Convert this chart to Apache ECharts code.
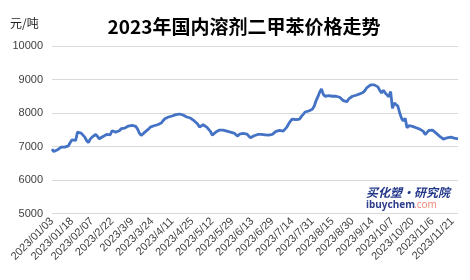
<!DOCTYPE html>
<html><head><meta charset="utf-8">
<script src="https://cdn.jsdelivr.net/npm/echarts@6/dist/echarts.min.js"></script>
<style>html,body{margin:0;padding:0;background:#fff}#c{width:470px;height:280px}</style>
</head><body><div id="c"></div>
<script>
var titleText = '2023年国内溶剂二甲苯价格走势';
var unitText = '元/吨';
var yTicks = [5000, 6000, 7000, 8000, 9000, 10000];
var categories = [
'2023/01/03','2023/01/04','2023/01/05','2023/01/06','2023/01/09','2023/01/10','2023/01/11','2023/01/12','2023/01/13','2023/01/16','2023/01/17','2023/01/18','2023/01/19','2023/01/20','2023/01/28','2023/01/29','2023/01/30','2023/01/31',
'2023/02/01','2023/02/02','2023/02/03','2023/02/06','2023/02/07','2023/2/8','2023/2/9','2023/2/10','2023/2/13','2023/2/14','2023/2/15','2023/2/16','2023/2/17','2023/2/20','2023/2/21','2023/2/22','2023/2/23','2023/2/24','2023/2/27','2023/2/28',
'2023/3/1','2023/3/2','2023/3/3','2023/3/6','2023/3/7','2023/3/8','2023/3/9','2023/3/10','2023/3/13','2023/3/14','2023/3/15','2023/3/16','2023/3/17','2023/3/20','2023/3/21','2023/3/22','2023/3/23','2023/3/24','2023/3/27','2023/3/28','2023/3/29','2023/3/30','2023/3/31',
'2023/4/3','2023/4/4','2023/4/6','2023/4/7','2023/4/10','2023/4/11','2023/4/12','2023/4/13','2023/4/14','2023/4/17','2023/4/18','2023/4/19','2023/4/20','2023/4/21','2023/4/23','2023/4/24','2023/4/25','2023/4/26','2023/4/27','2023/4/28',
'2023/5/4','2023/5/5','2023/5/6','2023/5/8','2023/5/9','2023/5/10','2023/5/11','2023/5/12','2023/5/15','2023/5/16','2023/5/17','2023/5/18','2023/5/19','2023/5/22','2023/5/23','2023/5/24','2023/5/25','2023/5/26','2023/5/29','2023/5/30','2023/5/31',
'2023/6/1','2023/6/2','2023/6/5','2023/6/6','2023/6/7','2023/6/8','2023/6/9','2023/6/12','2023/6/13','2023/6/14','2023/6/15','2023/6/16','2023/6/19','2023/6/20','2023/6/21','2023/6/25','2023/6/26','2023/6/27','2023/6/28','2023/6/29','2023/6/30',
'2023/7/3','2023/7/4','2023/7/5','2023/7/6','2023/7/7','2023/7/10','2023/7/11','2023/7/12','2023/7/13','2023/7/14','2023/7/17','2023/7/18','2023/7/19','2023/7/20','2023/7/21','2023/7/24','2023/7/25','2023/7/26','2023/7/27','2023/7/28','2023/7/31',
'2023/8/1','2023/8/2','2023/8/3','2023/8/4','2023/8/7','2023/8/8','2023/8/9','2023/8/10','2023/8/11','2023/8/14','2023/8/15','2023/8/16','2023/8/17','2023/8/18','2023/8/21','2023/8/22','2023/8/23','2023/8/24','2023/8/25','2023/8/28','2023/8/29','2023/8/30','2023/8/31',
'2023/9/1','2023/9/4','2023/9/5','2023/9/6','2023/9/7','2023/9/8','2023/9/11','2023/9/12','2023/9/13','2023/9/14','2023/9/15','2023/9/18','2023/9/19','2023/9/20','2023/9/21','2023/9/22','2023/9/25','2023/9/26','2023/9/27','2023/9/28',
'2023/10/7','2023/10/8','2023/10/9','2023/10/10','2023/10/11','2023/10/12','2023/10/13','2023/10/16','2023/10/17','2023/10/18','2023/10/19','2023/10/20','2023/10/23','2023/10/24','2023/10/25','2023/10/26','2023/10/27','2023/10/30','2023/10/31',
'2023/11/1','2023/11/2','2023/11/3','2023/11/6','2023/11/7','2023/11/8','2023/11/9','2023/11/10','2023/11/13','2023/11/14','2023/11/15','2023/11/16','2023/11/17','2023/11/20','2023/11/21','2023/11/22','2023/11/23','2023/11/24'
];
var prices = [
6920,6850,6800,6900,6950,6980,6970,6980,6990,7020,7120,7200,7220,7180,7430,7410,7400,7350,7280,7180,
7120,7220,7280,7330,7360,7300,7230,7260,7300,7330,7360,7340,7350,7470,7450,7430,7450,7470,7530,7550,
7550,7570,7610,7620,7630,7630,7600,7520,7400,7330,7380,7430,7480,7520,7580,7610,7620,7640,7650,7660,
7700,7770,7830,7870,7880,7890,7910,7930,7950,7960,7970,7970,7940,7900,7880,7860,7850,7820,7770,7720,
7670,7580,7620,7650,7610,7580,7530,7450,7340,7380,7430,7460,7490,7490,7490,7480,7460,7450,7430,7410,
7400,7390,7310,7370,7390,7390,7390,7370,7320,7260,7280,7320,7340,7360,7360,7360,7360,7350,7340,7340,
7350,7360,7400,7450,7480,7480,7470,7460,7500,7580,7680,7760,7820,7810,7800,7810,7820,7900,7960,8030,
8080,8060,8070,8110,8200,8360,8480,8620,8720,8560,8500,8490,8520,8490,8500,8520,8500,8480,8470,8440,
8370,8350,8340,8420,8470,8500,8500,8530,8560,8570,8590,8620,8680,8760,8810,8840,8840,8840,8810,8780,
8680,8600,8680,8600,8540,8480,8640,8140,8300,8340,8200,8000,7840,7760,7840,7560,7620,7610,7600,7580,
7560,7530,7520,7520,7450,7360,7420,7480,7520,7490,7460,7400,7350,7300,7260,7220,7240,7260,7270,7280,
7260,7250,7240,7230
];
var chart = echarts.init(document.getElementById('c'), null, {renderer: 'canvas'});
chart.setOption({
  animation: false,
  backgroundColor: '#ffffff',
  title: {
    text: titleText, left: 239, top: 12, textAlign: 'center',
    textStyle: {fontFamily: 'Noto Sans CJK SC', fontWeight: 'bold', fontSize: 19, color: '#000'}
  },
  graphic: [
    {type: 'text', left: 10, top: 17, style: {text: unitText, font: '12px "Noto Sans CJK SC"', fill: '#222'}},
    {type: 'text', left: 366, top: 186, style: {text: '买化塑·研究院', font: 'italic bold 12px "Noto Sans CJK SC"', fill: '#24388a'}},
    {type: 'text', left: 366, top: 200, style: {text: 'ibuychem', font: 'bold 10px "Noto Sans"', fill: '#2f3f8c'}},
    {type: 'text', left: 414, top: 200, style: {text: '.com', font: '10px "Noto Sans"', fill: '#ef8a78'}}
  ],
  grid: {left: 52, right: 12, top: 46, bottom: 66.5, containLabel: false},
  xAxis: {
    type: 'category', data: categories, boundaryGap: false,
    axisLine: {show: false}, axisTick: {show: false},
    axisLabel: {interval: 10, rotate: 45, fontSize: 11, color: '#404040', fontFamily: 'Liberation Sans', margin: 6}
  },
  yAxis: {
    type: 'value', min: yTicks[0], max: yTicks[yTicks.length - 1], interval: 1000,
    axisLine: {show: false}, axisTick: {show: false},
    axisLabel: {fontSize: 11, color: '#404040', fontFamily: 'Liberation Sans', margin: 9, formatter: function (v) { return String(v); }},
    splitLine: {lineStyle: {color: '#d9d9d9', width: 1}}
  },
  series: [{
    type: 'line', data: prices, showSymbol: false, symbol: 'none',
    lineStyle: {color: '#4472c4', width: 2.8}
  }]
});
</script></body></html>
